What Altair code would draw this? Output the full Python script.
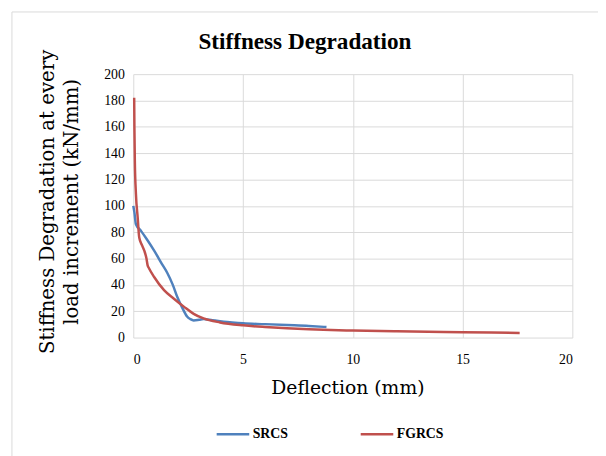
import altair as alt
import pandas as pd

srcs_x = [0.0, 0.05, 0.12, 0.35, 0.6, 0.95, 1.3, 1.55, 1.8, 2.0, 2.25, 2.45, 2.6, 2.75, 3.0, 3.2, 3.6, 3.95, 4.5, 5.0, 6.0, 7.0, 8.0, 8.8]
srcs_y = [100, 95, 86, 81, 75, 66, 56, 49, 40, 31, 22, 16, 14, 13, 13.5, 14, 13.2, 12.5, 11.5, 10.8, 10.2, 9.5, 8.8, 8.0]

fgrcs_x = [0.04, 0.05, 0.07, 0.12, 0.2, 0.27, 0.4, 0.5, 0.6, 0.65, 0.72, 0.95, 1.4, 1.85, 2.3, 2.75, 3.2, 3.95, 5.0, 6.0, 7.0, 8.0, 9.0, 10.0, 12.0, 15.0, 17.6]
fgrcs_y = [182, 160, 134, 109, 91, 76, 70, 66, 60, 55, 52.5, 46, 36, 29.5, 23.5, 18, 14.5, 11.5, 9.3, 8.0, 7.0, 6.3, 5.7, 5.3, 4.8, 4.1, 3.5]

series = ["SRCS", "FGRCS"]
colors = ["#4F81BD", "#C0504D"]

rows = []
for i, (x, y) in enumerate(zip(srcs_x, srcs_y)):
    rows.append({"series": "SRCS", "x": x, "y": y, "i": i})
for i, (x, y) in enumerate(zip(fgrcs_x, fgrcs_y)):
    rows.append({"series": "FGRCS", "x": x, "y": y, "i": i})
df = pd.DataFrame(rows)

W, H = 445, 267
PL, PT = 127, 64

border = alt.Chart(pd.DataFrame({"a": [0]})).mark_rect(
    fillOpacity=0, stroke="#D9D9D9", strokeWidth=1
).encode(
    x=alt.value(-123), x2=alt.value(500), y=alt.value(-63), y2=alt.value(420)
)

title = alt.Chart(pd.DataFrame({"t": ["Stiffness Degradation"]})).mark_text(
    font="Liberation Serif", fontSize=23.5, fontWeight="bold", color="#000000",
    align="center", baseline="alphabetic"
).encode(text="t:N", x=alt.value(174), y=alt.value(-25))

lines = alt.Chart(df).mark_line(strokeWidth=2.5, interpolate="monotone").encode(
    x=alt.X("x:Q", scale=alt.Scale(domain=[0, 20], nice=False),
            axis=alt.Axis(values=[0, 5, 10, 15, 20], title="Deflection (mm)",
                          titleX=217, titleY=42, titleFontSize=19)),
    y=alt.Y("y:Q", scale=alt.Scale(domain=[0, 200], nice=False),
            axis=alt.Axis(values=list(range(0, 201, 20)),
                          title=["Stiffness Degradation at every", "load increment (kN/mm)"],
                          titleX=-77, titleY=129, titleFontSize=20)),
    color=alt.Color("series:N", scale=alt.Scale(domain=series, range=colors),
                    legend=alt.Legend(title=None, orient="none", direction="horizontal",
                                      legendX=83, legendY=347, symbolType="stroke",
                                      symbolSize=1089, symbolStrokeWidth=2.5,
                                      labelFont="Liberation Serif", labelFontWeight="bold",
                                      labelFontSize=14, labelColor="#000000",
                                      columnPadding=68, labelOffset=2)),
    order="i:Q",
)

chart = alt.layer(border, title, lines).properties(
    width=W, height=H,
    autosize=alt.AutoSizeParams(type="none"),
    padding={"left": PL, "top": PT, "right": 26, "bottom": 117},
).configure_view(stroke=None).configure_axis(
    grid=True, gridColor="#D9D9D9", gridWidth=1,
    domain=False, ticks=False,
    labelFont="Liberation Serif", labelFontSize=14, labelColor="#000000",
    titleFont="DejaVu Serif", titleFontWeight="normal",
    titleColor="#000000", labelPadding=9,
).configure_axisX(labelPadding=15).configure_axisY(titleAngle=-90, titleLineHeight=24)

chart.save("out.html", embed_options={"renderer": "svg", "actions": False})
